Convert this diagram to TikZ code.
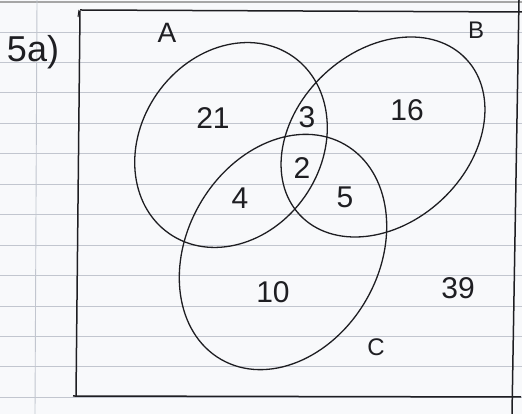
\documentclass[tikz,border=0pt]{standalone}
\usepackage{fontspec}
\setmainfont{Liberation Sans}
\usetikzlibrary{shapes.geometric}
\definecolor{paper}{HTML}{F8F9FB}
\definecolor{rule}{HTML}{C2C6CF}
\definecolor{ink}{HTML}{1E1E22}
\tikzset{
  set/.style={draw=ink, line width=1.3pt, ellipse, inner sep=0pt},
  num/.style={text=ink, font=\fontsize{30}{30}\selectfont, inner sep=0pt},
  lab/.style={text=ink, font=\fontsize{24}{24}\selectfont, inner sep=0pt},
  frame/.style={draw=ink, line width=1.5pt},
  ruleline/.style={draw=rule, line width=0.9pt}
}
\begin{document}
\begin{tikzpicture}[x=1pt,y=1pt]
\useasboundingbox (0,0) rectangle (522,414);
\fill[paper] (0,0) rectangle (522,414);
% ruled lines
\foreach \k in {0,...,12} {
  \draw[ruleline] (0,{414-32-30.45*\k}) -- (522,{414-32-30.45*\k});
}
\draw[draw=gray!70, line width=1.2pt] (0,412) -- (522,412);
% margin line
\draw[ruleline] (37,414) -- (35,0);
% frame
\coordinate (tl) at (80,404);
\coordinate (tr) at (522,402);
\coordinate (rt) at (519,414);
\coordinate (rb) at (512,0);
\coordinate (bl) at (73,18);
\coordinate (br) at (521,17);
\coordinate (lt) at (80,403);
\coordinate (lb) at (76,18);
\draw[frame] (tl) -- (tr);
\draw[frame] (rt) -- (rb);
\draw[frame] (bl) -- (br);
\draw[frame] (lt) -- (lb);
\draw[frame, line width=1pt] (79,404) -- (78,397);
% sets
\node[set, minimum width=216pt, minimum height=180pt, rotate=55] (setA) at (231,269) {};
\node[set, minimum width=228pt, minimum height=172pt, rotate=43] (setB) at (383,277) {};
\node[set, minimum width=248pt, minimum height=192pt, rotate=60] (setC) at (283,162) {};
% labels
\node[text=ink, font=\fontsize{36}{36}\selectfont, inner sep=0pt] (q) at (33,362) {5a)};
\node[lab, font=\fontsize{28}{28}\selectfont] (lA) at (167,381) {A};
\node[lab] (lB) at (476,384) {B};
\node[lab] (lC) at (376,67) {C};
\node[num] (n21) at (213,296) {21};
\node[num] (n3) at (307,297) {3};
\node[num] (n16) at (407,304) {16};
\node[num] (n2) at (302,246) {2};
\node[num] (n5) at (345,217) {5};
\node[num] (n4) at (240,216) {4};
\node[num] (n10) at (273,122) {10};
\node[num] (n39) at (458,126) {39};
\end{tikzpicture}
\end{document}
